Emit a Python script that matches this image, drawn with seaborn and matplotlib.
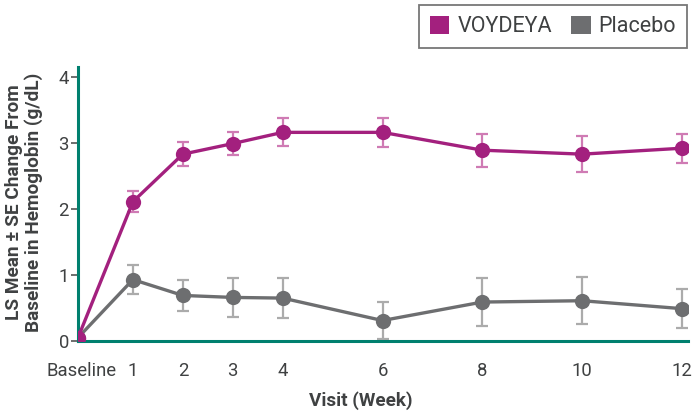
import matplotlib
matplotlib.use("Agg")
import matplotlib.pyplot as plt
import matplotlib.transforms as mtransforms
import seaborn as sns
import pandas as pd
import numpy as np
from matplotlib.patches import Patch

# ---- data ----
visit_x = [-0.1, 1, 2, 3, 4, 6, 8, 10, 12]
tick_labels = ["Baseline", "1", "2", "3", "4", "6", "8", "10", "12"]
voydeya_mean = [0.05, 2.11, 2.83, 2.99, 3.16, 3.16, 2.89, 2.83, 2.92]
voydeya_se = [0.0, 0.16, 0.18, 0.18, 0.21, 0.22, 0.25, 0.27, 0.22]
placebo_mean = [0.05, 0.93, 0.69, 0.66, 0.65, 0.31, 0.59, 0.61, 0.49]
placebo_se = [0.0, 0.22, 0.24, 0.29, 0.30, 0.28, 0.36, 0.36, 0.30]
series_names = ["VOYDEYA", "Placebo"]

C_V = "#A3207E"
C_P = "#6D6E70"
C_VE = "#CF7BB4"
C_PE = "#ABABAB"
TEAL = "#00806F"
TXT = "#3F4142"

sns.set_theme(style="white")
plt.rcParams["font.family"] = ["Roboto", "DejaVu Sans"]

df = pd.DataFrame({
    "week": visit_x * 2,
    "value": voydeya_mean + placebo_mean,
    "se": voydeya_se + placebo_se,
    "group": [series_names[0]] * len(visit_x) + [series_names[1]] * len(visit_x),
})

fig = plt.figure(figsize=(6.98, 4.2), dpi=100)
W, H = 698, 420
ax = fig.add_axes([78 / W, 1 - 341 / H, (688 - 78) / W, (341 - 67) / H])

for name, col, ecol in [(series_names[1], C_P, C_PE), (series_names[0], C_V, C_VE)]:
    sub = df[df["group"] == name]
    ax.errorbar(sub["week"], sub["value"], yerr=sub["se"], fmt="none",
                ecolor=ecol, elinewidth=1.6, capsize=4, capthick=1.6, zorder=2)

sns.lineplot(data=df, x="week", y="value", hue="group",
             hue_order=[series_names[1], series_names[0]],
             palette={series_names[0]: C_V, series_names[1]: C_P},
             marker="o", markersize=11, markeredgewidth=0, linewidth=2.4,
             legend=False, ax=ax, zorder=3)

ax.set_xlim(-0.1, 12.12)
ax.set_ylim(0, 4.15)
ax.set_xticks(visit_x)
ax.set_xticklabels(tick_labels)
ax.set_yticks([0, 1, 2, 3, 4])
ax.set_yticklabels(["0", "1", "2", "3", "4"])
ax.tick_params(axis="x", length=0, pad=15, labelsize=13.3, labelcolor=TXT)
ax.tick_params(axis="y", length=5, width=1.2, color="#555555", pad=1.5,
               labelsize=13.3, labelcolor=TXT, left=True)
first = ax.get_xticklabels()[0]
first.set_transform(first.get_transform() +
                    mtransforms.ScaledTranslation(4 / 100, 0, fig.dpi_scale_trans))

for s in ["top", "right"]:
    ax.spines[s].set_visible(False)
for s in ["left", "bottom"]:
    ax.spines[s].set_color(TEAL)
    ax.spines[s].set_linewidth(2.2)
ax.set_xlabel("")
ax.set_ylabel("")

fig.text(361 / W, 1 - 401 / H, "Visit (Week)", ha="center", va="center",
         fontsize=13.6, fontweight="bold", color=TXT)
fig.text(24 / W, 1 - 202 / H, "LS Mean \u00b1 SE Change From\nBaseline in Hemoglobin (g/dL)",
         ha="center", va="center", rotation=90, fontsize=13.7, fontweight="bold",
         color=TXT, linespacing=1.1)

handles = [Patch(facecolor=C_V, edgecolor="none"), Patch(facecolor=C_P, edgecolor="none")]
leg = fig.legend(handles, series_names, loc="upper right",
                 bbox_to_anchor=(687 / W, 1 - 5 / H), frameon=True, fancybox=False,
                 ncol=2, fontsize=15.5, handlelength=0.9, handleheight=0.9,
                 handletextpad=0.37, columnspacing=0.9, borderpad=0.5,
                 borderaxespad=0, edgecolor="#555555", labelcolor=TXT)
leg.get_frame().set_linewidth(1.3)

fig.savefig("out.png", dpi=100)
